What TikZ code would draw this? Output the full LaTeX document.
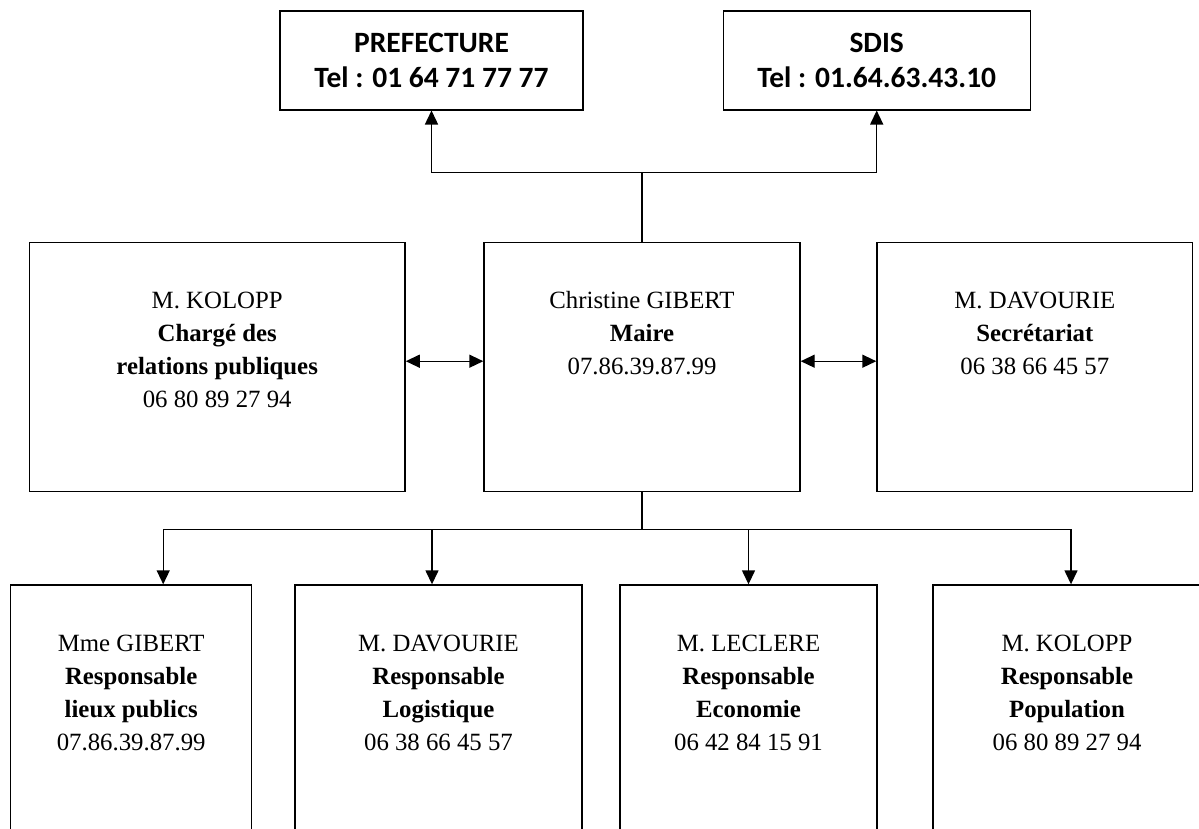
\documentclass[tikz,border=0pt]{standalone}
\usepackage{fontspec}
\setmainfont{Liberation Serif}
\newfontfamily\headfont{Carlito}
\usepackage{tikz}
\usetikzlibrary{arrows.meta,positioning,calc}

% Text of a person box: fixed size, lines hang from the top.
\newcommand{\orgentry}[3]{\parbox[c][#2][t]{#1}{\centering
  \fontsize{24.8}{33}\selectfont\rule{0pt}{66pt}#3}}

\begin{document}
\begin{tikzpicture}[
  x=1pt, y=-1pt,
  person/.style={draw, line width=1.4pt, inner sep=0pt},
  agency/.style={draw, line width=1.4pt, align=center, inner sep=0pt,
    font=\headfont\bfseries\fontsize{29.5}{34.5}\selectfont},
  wire/.style={line width=1.4pt},
  flow/.style={wire, -{Triangle[length=14pt,width=13pt]}},
  both/.style={wire, {Triangle[length=14pt,width=13pt]}-{Triangle[length=14pt,width=13pt]}}
]
\useasboundingbox (0,0) rectangle (1199,828);

% Outside services.
\node[agency, minimum width=303pt, minimum height=99pt] (prefecture) at (431.5,60.3)
  {PREFECTURE\\Tel : 01 64 71 77 77};
\node[agency, minimum width=307pt, minimum height=99pt] (sdis) at (876.7,60.3)
  {SDIS\\Tel : 01.64.63.43.10};

% Mayor and her direct contacts.
\node[person] (maire) at (642,367.2) {\orgentry{316pt}{249pt}{%
  Christine GIBERT\\\textbf{Maire}\\07.86.39.87.99}};
\node[person] (relations) at (217.2,367.2) {\orgentry{375.7pt}{249pt}{%
  M. KOLOPP\\\textbf{Chargé des}\\\textbf{relations publiques}\\06 80 89 27 94}};
\node[person] (secretariat) at (1034.8,367.2) {\orgentry{315.6pt}{249pt}{%
  M. DAVOURIE\\\textbf{Secrétariat}\\06 38 66 45 57}};

% Responsables (cut by the page bottom).
\node[person] (lieux) at (131.2,725) {\orgentry{241pt}{280pt}{%
  Mme GIBERT\\\textbf{Responsable}\\\textbf{lieux publics}\\07.86.39.87.99}};
\node[person] (logistique) at (438.5,725) {\orgentry{287pt}{280pt}{%
  M. DAVOURIE\\\textbf{Responsable}\\\textbf{Logistique}\\06 38 66 45 57}};
\node[person] (economie) at (748.5,725) {\orgentry{257pt}{280pt}{%
  M. LECLERE\\\textbf{Responsable}\\\textbf{Economie}\\06 42 84 15 91}};
\node[person] (population) at (1067,725) {\orgentry{268pt}{280pt}{%
  M. KOLOPP\\\textbf{Responsable}\\\textbf{Population}\\06 80 89 27 94}};

% Up to the services.
\coordinate (upfork) at (642,172.7);
\draw[wire] (maire.north) -- (upfork);
\draw[flow] (upfork) -| (prefecture.south);
\draw[flow] (upfork) -| (sdis.south);

% Side links.
\draw[both] ([yshift=6pt]relations.east) -- ([yshift=6pt]maire.west);
\draw[both] ([yshift=6pt]maire.east) -- ([yshift=6pt]secretariat.west);

% Down to the responsables.
\coordinate (downfork) at (642,529.7);
\draw[wire] (maire.south) -- (downfork);
\draw[flow] (downfork) -| ([xshift=32pt]lieux.north);
\draw[flow] (downfork) -| ([xshift=-6.5pt]logistique.north);
\draw[flow] (downfork) -| (economie.north);
\draw[flow] (downfork) -| ([xshift=4pt]population.north);

\end{tikzpicture}
\end{document}
